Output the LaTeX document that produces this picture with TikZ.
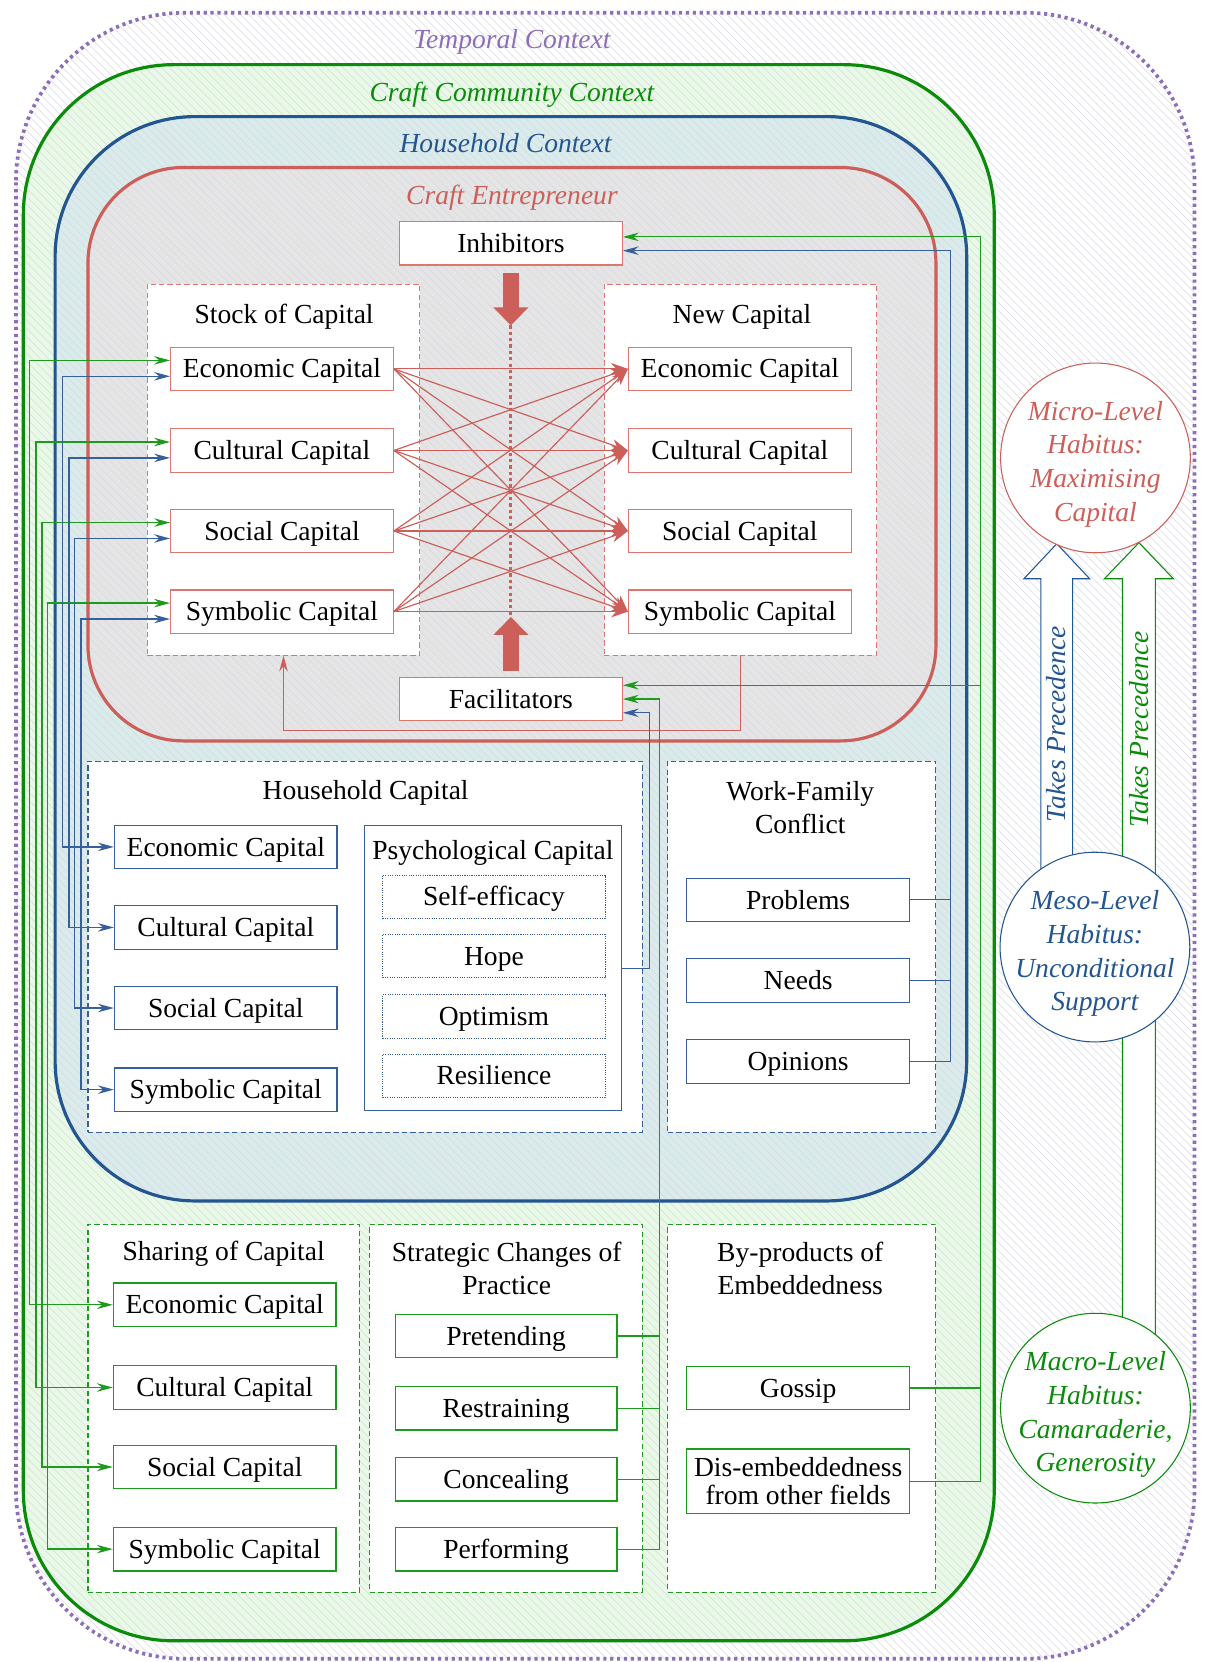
\documentclass[tikz,border=0pt]{standalone}
\usepackage{fontspec}
\setmainfont{Liberation Serif}
\usetikzlibrary{arrows.meta,patterns.meta,calc}

\definecolor{tempc}{RGB}{140,110,185}
\definecolor{commc}{RGB}{10,140,10}
\definecolor{housec}{RGB}{35,85,145}
\definecolor{entc}{RGB}{205,95,90}
\definecolor{commfill}{RGB}{232,250,230}
\definecolor{housefill}{RGB}{218,235,236}
\definecolor{entfill}{RGB}{229,229,229}
\definecolor{rboxc}{RGB}{222,118,112}
\definecolor{bboxc}{RGB}{55,95,155}
\definecolor{gboxc}{RGB}{30,155,30}
\definecolor{hatchc}{RGB}{216,216,226}

\tikzset{
  txt/.style={font=\fontsize{26}{31}\selectfont, text height=17.2pt, text depth=0pt},
  mtxt/.style={font=\fontsize{26}{31}\selectfont, align=center},
  ctx/.style={font=\fontsize{26}{31}\selectfont\itshape, text height=17.2pt, text depth=0pt},
  boxbase/.style={minimum width=210pt, minimum height=41pt, inner sep=0pt,
              fill=white, line width=1.2pt},
  capbox/.style={boxbase, font=\fontsize{26}{31}\selectfont,
              text height=17.2pt, text depth=0pt},
  rcap/.style={capbox, draw=rboxc},
  bcap/.style={capbox, draw=bboxc},
  gcap/.style={capbox, draw=gboxc},
  pcap/.style={capbox, draw=bboxc, line width=0.9pt, dash pattern=on 1pt off 1.2pt},
  grp/.style={fill=white, line width=1pt, dash pattern=on 5pt off 3pt, inner sep=0pt},
  rgrp/.style={grp, draw=rboxc},
  bgrp/.style={grp, draw=bboxc},
  ggrp/.style={grp, draw=gboxc},
  xline/.style={draw=entc, line width=1.1pt, arrows={-Stealth[length=16pt,width=11pt,inset=5pt]}},
  gcon/.style={draw=gboxc, line width=1.2pt, arrows={Stealth[length=15pt,width=8pt,inset=5pt]-Stealth[length=15pt,width=8pt,inset=5pt]}},
  bcon/.style={draw=bboxc, line width=1.2pt, arrows={Stealth[length=15pt,width=8pt,inset=5pt]-Stealth[length=15pt,width=8pt,inset=5pt]}},
  gline/.style={draw=gboxc, line width=1.1pt},
  bline/.style={draw=bboxc, line width=1.1pt},
  rline/.style={draw=entc, line width=1.2pt},
  ahead/.style={arrows={-Stealth[length=15pt,width=8pt,inset=5pt]}},
  fatarrow/.style={draw=entc, line width=15pt, arrows={-Triangle[length=17pt,width=32pt]}},
  halo/.style={circle, fill=white, line width=1pt, minimum size=179pt, inner sep=0pt},
  halotext/.style={align=center, font=\fontsize{26}{32}\selectfont\itshape, yshift=-6pt},
}

\begin{document}
\begin{tikzpicture}[x=1pt,y=-1pt]
\useasboundingbox (0,0) rectangle (1137,1568);

% nested context areas
\fill[white, rounded corners=160pt] (15,12) rectangle (1127,1565);
\fill[commfill, rounded corners=142pt] (22,61) rectangle (938,1548);
\fill[housefill, rounded corners=132pt] (52,110) rectangle (912,1133);
\fill[entfill, rounded corners=90pt] (83,158) rectangle (883,699);
\fill[pattern={Lines[angle=-45,distance=5.5pt,line width=0.5pt]}, pattern color=hatchc,
      rounded corners=160pt] (15,12) rectangle (1127,1565);
\draw[tempc, line width=3.5pt, dash pattern=on 3pt off 3.5pt, rounded corners=160pt]
      (15,12) rectangle (1127,1565);
\draw[commc, line width=3pt, rounded corners=142pt] (22,61) rectangle (938,1548);
\draw[housec, line width=3pt, rounded corners=132pt] (52,110) rectangle (912,1133);
\draw[entc, line width=3pt, rounded corners=90pt] (83,158) rectangle (883,699);

\node[ctx, text=tempc] (ltemp) at (483,37) {Temporal Context};
\node[ctx, text=commc] (lcomm) at (483,87) {Craft Community Context};
\node[ctx, text=housec] (lhouse) at (477,135) {Household Context};
\node[ctx, text=entc] (lent) at (483,184) {Craft Entrepreneur};

% capital groups inside the entrepreneur
\node[rgrp, minimum width=257pt, minimum height=350pt] (stock) at (267.5,443) {};
\node[rgrp, minimum width=257pt, minimum height=350pt] (newc) at (698.5,443) {};
\node[txt] (tstock) at (268,297) {Stock of Capital};
\node[txt] (tnew) at (700,297) {New Capital};

\node[rcap] (sE) at (266,348) {Economic Capital};
\node[rcap] (sC) at (266,425) {Cultural Capital};
\node[rcap] (sS) at (266,501) {Social Capital};
\node[rcap] (sY) at (266,577) {Symbolic Capital};
\node[rcap] (nE) at (698,348) {Economic Capital};
\node[rcap] (nC) at (698,425) {Cultural Capital};
\node[rcap] (nS) at (698,501) {Social Capital};
\node[rcap] (nY) at (698,577) {Symbolic Capital};

\node[rcap] (inh) at (482,229.5) {Inhibitors};
\node[rcap] (fac) at (482,659.5) {Facilitators};

% household groups
\node[bgrp, minimum width=523pt, minimum height=350pt] (hh) at (344.5,893) {};
\node[bgrp, minimum width=253pt, minimum height=350pt] (wfc) at (756.5,893) {};
\node[txt] (thh) at (345,746) {Household Capital};
\node[mtxt] (twfc) at (755,762) {Work-Family\\Conflict};

\node[bcap] (hE) at (213,799) {Economic Capital};
\node[bcap] (hC) at (213,875) {Cultural Capital};
\node[bcap] (hS) at (213,951) {Social Capital};
\node[bcap] (hY) at (213,1028) {Symbolic Capital};

\node[draw=bboxc, line width=1.2pt, fill=white, minimum width=242pt, minimum height=269pt, inner sep=0pt] (psy) at (465,913.5) {};
\node[txt] (tpsy) at (465,802) {Psychological Capital};
\node[pcap] (pSe) at (466,846) {Self-efficacy};
\node[pcap] (pHo) at (466,902) {Hope};
\node[pcap] (pOp) at (466,959) {Optimism};
\node[pcap] (pRe) at (466,1015) {Resilience};

\node[bcap] (wPr) at (753,849) {Problems};
\node[bcap] (wNe) at (753,925) {Needs};
\node[bcap] (wOp) at (753,1001.5) {Opinions};

% community groups
\node[ggrp, minimum width=256pt, minimum height=347pt] (shr) at (211,1328.5) {};
\node[ggrp, minimum width=257pt, minimum height=347pt] (stg) at (477.5,1328.5) {};
\node[ggrp, minimum width=253pt, minimum height=347pt] (byp) at (756.5,1328.5) {};
\node[txt] (tshr) at (211,1181) {Sharing of Capital};
\node[mtxt] (tstg) at (478,1196.5) {Strategic Changes of\\Practice};
\node[mtxt] (tbyp) at (755,1197) {By-products of\\Embeddedness};

\node[gcap] (cE) at (212,1231) {Economic Capital};
\node[gcap] (cC) at (212,1309) {Cultural Capital};
\node[gcap] (cS) at (212,1384) {Social Capital};
\node[gcap] (cY) at (212,1461.5) {Symbolic Capital};

\node[gcap, minimum width=209pt] (gPre) at (477.5,1260.5) {Pretending};
\node[gcap, minimum width=209pt] (gRes) at (477.5,1328.5) {Restraining};
\node[gcap, minimum width=209pt] (gCon) at (477.5,1395.5) {Concealing};
\node[gcap, minimum width=209pt] (gPer) at (477.5,1461.5) {Performing};

\node[gcap] (bGo) at (753,1309.5) {Gossip};
\node[boxbase, draw=gboxc, minimum height=61pt, align=center, font=\fontsize{26}{26}\selectfont] (bDi) at (753,1397.5) {Dis-embeddedness\\from other fields};

% stock of capital converts into new capital
\foreach \a in {sE,sC,sS,sY}{
  \foreach \b in {nE,nC,nS,nY}{
    \draw[xline] (\a.east) -- (\b.west);
  }
}

% inhibitors and facilitators acting on the conversion
\coordinate (dtop) at (482,307);
\coordinate (dbot) at (482,582);
\draw[entc, line width=3pt, dash pattern=on 3pt off 3pt] (dtop) -- (dbot);
\draw[fatarrow] ([yshift=-7pt]inh.south) -- (dtop);
\draw[fatarrow] ([yshift=5pt]fac.north) -- (dbot);

% new capital feeds back into the stock
\coordinate (fby) at (0,689);
\draw[rline, ahead] (newc.south) -- (newc.south |- fby) -| (stock.south);

% community sharing and household capital links
\coordinate (g1) at (28,0);
\coordinate (g2) at (34,0);
\coordinate (g3) at (39.5,0);
\coordinate (g4) at (45,0);
\coordinate (b1) at (59,0);
\coordinate (b2) at (65,0);
\coordinate (b3) at (70.5,0);
\coordinate (b4) at (76.5,0);
\draw[gcon] ([yshift=8pt]sE.west) -| (g1 |- cE.west) -- (cE.west);
\draw[gcon] ([yshift=8pt]sC.west) -| (g2 |- cC.west) -- (cC.west);
\draw[gcon] ([yshift=8pt]sS.west) -| (g3 |- cS.west) -- (cS.west);
\draw[gcon] ([yshift=8pt]sY.west) -| (g4 |- cY.west) -- (cY.west);
\draw[bcon] ([yshift=-7pt]sE.west) -| (b1 |- hE.west) -- (hE.west);
\draw[bcon] ([yshift=-7pt]sC.west) -| (b2 |- hC.west) -- (hC.west);
\draw[bcon] ([yshift=-7pt]sS.west) -| (b3 |- hS.west) -- (hS.west);
\draw[bcon] ([yshift=-7pt]sY.west) -| (b4 |- hY.west) -- (hY.west);

% buses on the right
\coordinate (psx) at (613,0);
\coordinate (stx) at (622,0);
\coordinate (wfx) at (897,0);
\coordinate (byx) at (925,0);
\coordinate (inhG) at ([yshift=6pt]inh.east);
\coordinate (inhB) at ([yshift=-7pt]inh.east);
\coordinate (facG) at ([yshift=13pt]fac.east);
\coordinate (facB) at ([yshift=-13pt]fac.east);

\draw[bline, ahead] (wOp.east) -| (wfx |- inhB) -- (inhB);
\draw[bline] (wPr.east) -- (wPr.east -| wfx);
\draw[bline] (wNe.east) -- (wNe.east -| wfx);

\draw[gline, ahead] (bDi.east) -| (byx |- inhG) -- (inhG);
\draw[gline] (bGo.east) -- (bGo.east -| byx);
\draw[gline, ahead] (byx |- facG) -- (facG);

\draw[gline, ahead] (gPer.east) -| (stx |- fac.east) -- (fac.east);
\draw[gline] (gPre.east) -- (gPre.east -| stx);
\draw[gline] (gRes.east) -- (gRes.east -| stx);
\draw[gline] (gCon.east) -- (gCon.east -| stx);

\draw[bline, ahead] (psy.east) -| (psx |- facB) -- (facB);

% habitus levels
\draw[housec, line width=1pt, fill=white] (982,850) -- (982,546) -- (966,546) -- (997,513)
      -- (1028,546) -- (1012,546) -- (1012,850);
\draw[commc, line width=1pt, fill=white] (1059,1300) -- (1059,546) -- (1042,546) -- (1074.5,512)
      -- (1107,546) -- (1090,546) -- (1090,1300);
\node[ctx, text=housec, rotate=90] (tp1) at (997,683) {Takes Precedence};
\node[ctx, text=commc, rotate=90] (tp2) at (1074.5,688) {Takes Precedence};

\node[halo, draw=entc] (micro) at (1033.5,432) {};
\node[halo, draw=housec] (meso) at (1033,893.5) {};
\node[halo, draw=commc] (macro) at (1033.5,1328.5) {};
\node[halotext, text=entc] (microt) at (micro) {Micro-Level\\Habitus:\\Maximising\\Capital};
\node[halotext, text=housec] (mesot) at (meso) {Meso-Level\\Habitus:\\Unconditional\\Support};
\node[halotext, text=commc] (macrot) at (macro) {Macro-Level\\Habitus:\\Camaraderie,\\Generosity};
\end{tikzpicture}
\end{document}
